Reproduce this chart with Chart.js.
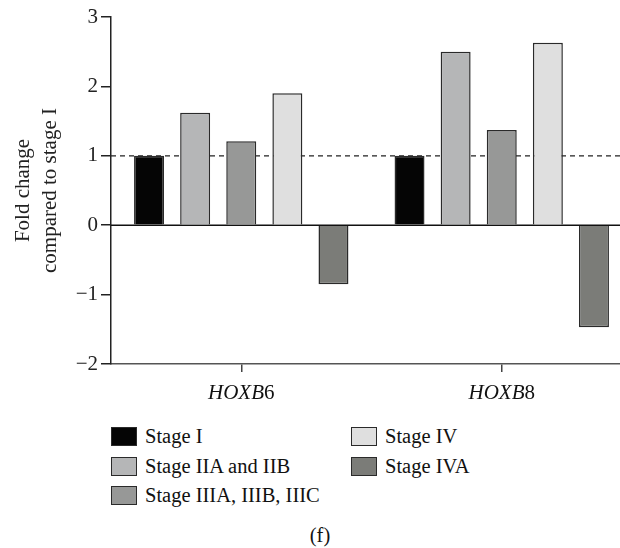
<!DOCTYPE html>
<html>
<head>
<meta charset="utf-8">
<script src="https://cdn.jsdelivr.net/npm/chart.js@4.4.0/dist/chart.umd.min.js"></script>
<style>
  body { margin: 0; width: 620px; height: 548px; overflow: hidden; background: #fff;
         font-family: "Liberation Serif", "DejaVu Serif", serif; color: #111; }
  #wrap { position: absolute; left: 0; top: 0; width: 632px; height: 410px; }
  #legend { position: absolute; left: 111px; top: 422px; display: grid; grid-auto-flow: column;
            grid-template-rows: repeat(3, 29.5px); grid-template-columns: 240px 240px; font-size: 20.5px; }
  .item { display: flex; align-items: center; }
  .box { width: 24px; height: 17px; border: 1.5px solid #2a2a2a; margin-right: 8px; }
  #caption { position: absolute; left: 0; width: 640px; top: 524px; text-align: center; font-size: 20.5px; }
</style>
</head>
<body>
<div id="wrap"><canvas id="chart" width="632" height="410"></canvas></div>
<div id="legend"></div>
<div id="caption">(f)</div>
<script>
const genes = ['HOXB6', 'HOXB8'];
const stages = ['Stage I', 'Stage IIA and IIB', 'Stage IIIA, IIIB, IIIC', 'Stage IV', 'Stage IVA'];
const stageI = [1.0, 1.0];
const stageII = [1.62, 2.50];
const stageIII = [1.21, 1.37];
const stageIV = [1.90, 2.63];
const stageIVA = [-0.85, -1.47];
const yTicks = [-2, -1, 0, 1, 2, 3];
const refLine = 1;
const colors = ['#050505', '#b5b6b7', '#979897', '#dfdfdf', '#7b7c78'];

const serif = '"Liberation Serif", "DejaVu Serif", serif';
const seriesValues = [stageI, stageII, stageIII, stageIV, stageIVA];

// reference lines and gene labels (italic gene name, upright number)
const decor = {
    id: 'decor',
    beforeDatasetsDraw(chart) {
        const { ctx, chartArea, scales: { y } } = chart;
        ctx.save();
        const y1 = y.getPixelForValue(refLine);
        ctx.strokeStyle = '#222';
        ctx.lineWidth = 1.2;
        ctx.setLineDash([5, 4]);
        ctx.beginPath();
        ctx.moveTo(chartArea.left, y1);
        ctx.lineTo(chartArea.right, y1);
        ctx.stroke();
        ctx.setLineDash([]);
        const y0 = y.getPixelForValue(0);
        ctx.strokeStyle = '#111';
        ctx.lineWidth = 1.5;
        ctx.beginPath();
        ctx.moveTo(chartArea.left, y0);
        ctx.lineTo(chartArea.right, y0);
        ctx.stroke();
        ctx.restore();
    },
    afterDraw(chart) {
        const { ctx, scales: { x } } = chart;
        ctx.save();
        ctx.fillStyle = '#111';
        ctx.textBaseline = 'middle';
        genes.forEach((g, i) => {
            const m = g.match(/^([A-Z]+)(\d+)$/);
            const italic = 'italic 21px ' + serif;
            const upright = '21px ' + serif;
            ctx.font = italic;
            const w1 = ctx.measureText(m[1]).width;
            ctx.font = upright;
            const w2 = ctx.measureText(m[2]).width;
            const cx = x.getPixelForValue(i);
            const left = cx - (w1 + w2) / 2;
            ctx.font = italic;
            ctx.fillText(m[1], left, 393);
            ctx.font = upright;
            ctx.fillText(m[2], left + w1, 393);
        });
        ctx.restore();
    }
};

new Chart(document.getElementById('chart'), {
    type: 'bar',
    data: {
        labels: genes,
        datasets: stages.map((s, i) => ({
            label: s,
            data: seriesValues[i],
            backgroundColor: colors[i],
            borderColor: '#2a2a2a',
            borderWidth: 1.5,
            categoryPercentage: 0.885,
            barPercentage: 0.65
        }))
    },
    options: {
        responsive: false,
        animation: false,
        layout: { padding: { top: 17, left: 0, right: 0, bottom: 0 } },
        plugins: { legend: { display: false }, tooltip: { enabled: false } },
        scales: {
            x: {
                offset: true,
                grid: { drawOnChartArea: false, offset: false, tickLength: 8, color: '#444', lineWidth: 1.5 },
                border: { color: '#555', width: 1.5 },
                ticks: { display: false },
                afterFit(s) { s.height = 46; }
            },
            y: {
                min: -2,
                max: 3,
                afterBuildTicks(s) { s.ticks = yTicks.map(v => ({ value: v })); },
                grid: { drawOnChartArea: false, tickLength: 10, color: '#222', lineWidth: 1.5 },
                border: { color: '#222', width: 1.5 },
                ticks: {
                    color: '#222',
                    padding: 3,
                    font: { family: serif, size: 21 },
                    callback: v => v < 0 ? '\u2212' + Math.abs(v) : String(v)
                },
                title: {
                    display: true,
                    text: ['Fold change', 'compared to stage I'],
                    color: '#222',
                    font: { family: serif, size: 21, lineHeight: 1.3 },
                    padding: { top: 10, bottom: 0 }
                },
                afterFit(s) { s.width = 111; }
            }
        }
    },
    plugins: [decor]
});

// legend laid out in two columns, filled column by column
const legend = document.getElementById('legend');
stages.forEach((s, i) => {
    const item = document.createElement('div');
    item.className = 'item';
    item.innerHTML = '<span class="box" style="background:' + colors[i] + '"></span><span>' + s + '</span>';
    legend.appendChild(item);
});
</script>
</body>
</html>
